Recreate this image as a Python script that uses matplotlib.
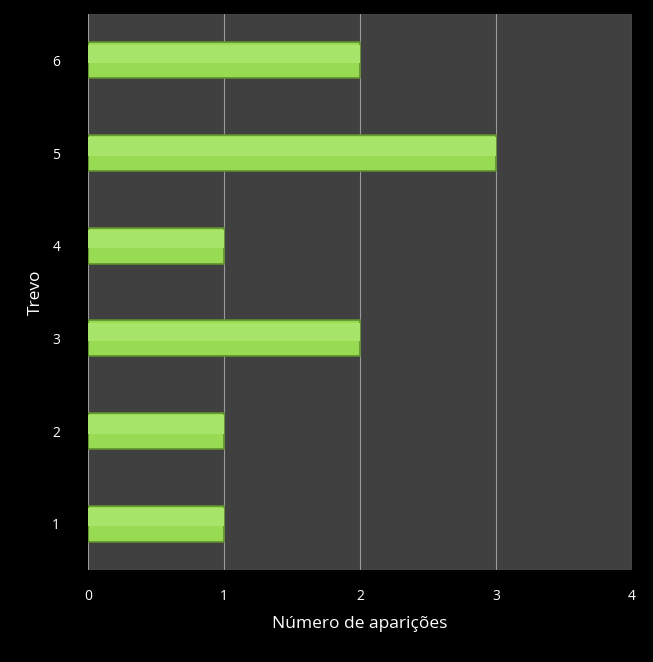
import matplotlib
matplotlib.use("Agg")
import matplotlib.pyplot as plt

trevos = [1, 2, 3, 4, 5, 6]
aparicoes = [1, 1, 2, 1, 3, 2]

plt.rcParams["font.family"] = ["Open Sans", "DejaVu Sans"]

fig = plt.figure(figsize=(6.53, 6.62), dpi=100, facecolor="black")
ax = fig.add_axes([88 / 653, 1 - 570 / 662, (632 - 88) / 653, (570 - 14) / 662])
ax.set_facecolor("#404040")

ax.barh(trevos, aparicoes, height=0.39, color="#98DA52", edgecolor="#5f8f2c",
        linewidth=1.2, zorder=3)
# lighter highlight on the upper part of each bar
ax.barh([t + 0.07 for t in trevos], aparicoes, height=0.2, color="#A9E46A",
        linewidth=0, zorder=4)

ax.set_xlim(0, 4)
ax.set_ylim(0.5, 6.5)
ax.set_xticks([0, 1, 2, 3, 4])
ax.set_yticks(trevos)
ax.grid(axis="x", color="#9a9a9a", linewidth=0.8, zorder=1)
for s in ax.spines.values():
    s.set_visible(False)
ax.tick_params(colors="white", labelsize=10, length=0, pad=14)
ax.tick_params(axis="y", pad=20)
ax.set_xlabel("Número de aparições", color="white", fontsize=12.5, labelpad=8)
ax.set_ylabel("Trevo", color="white", fontsize=12.5, labelpad=6)

fig.savefig("out.png", dpi=100, facecolor="black")
